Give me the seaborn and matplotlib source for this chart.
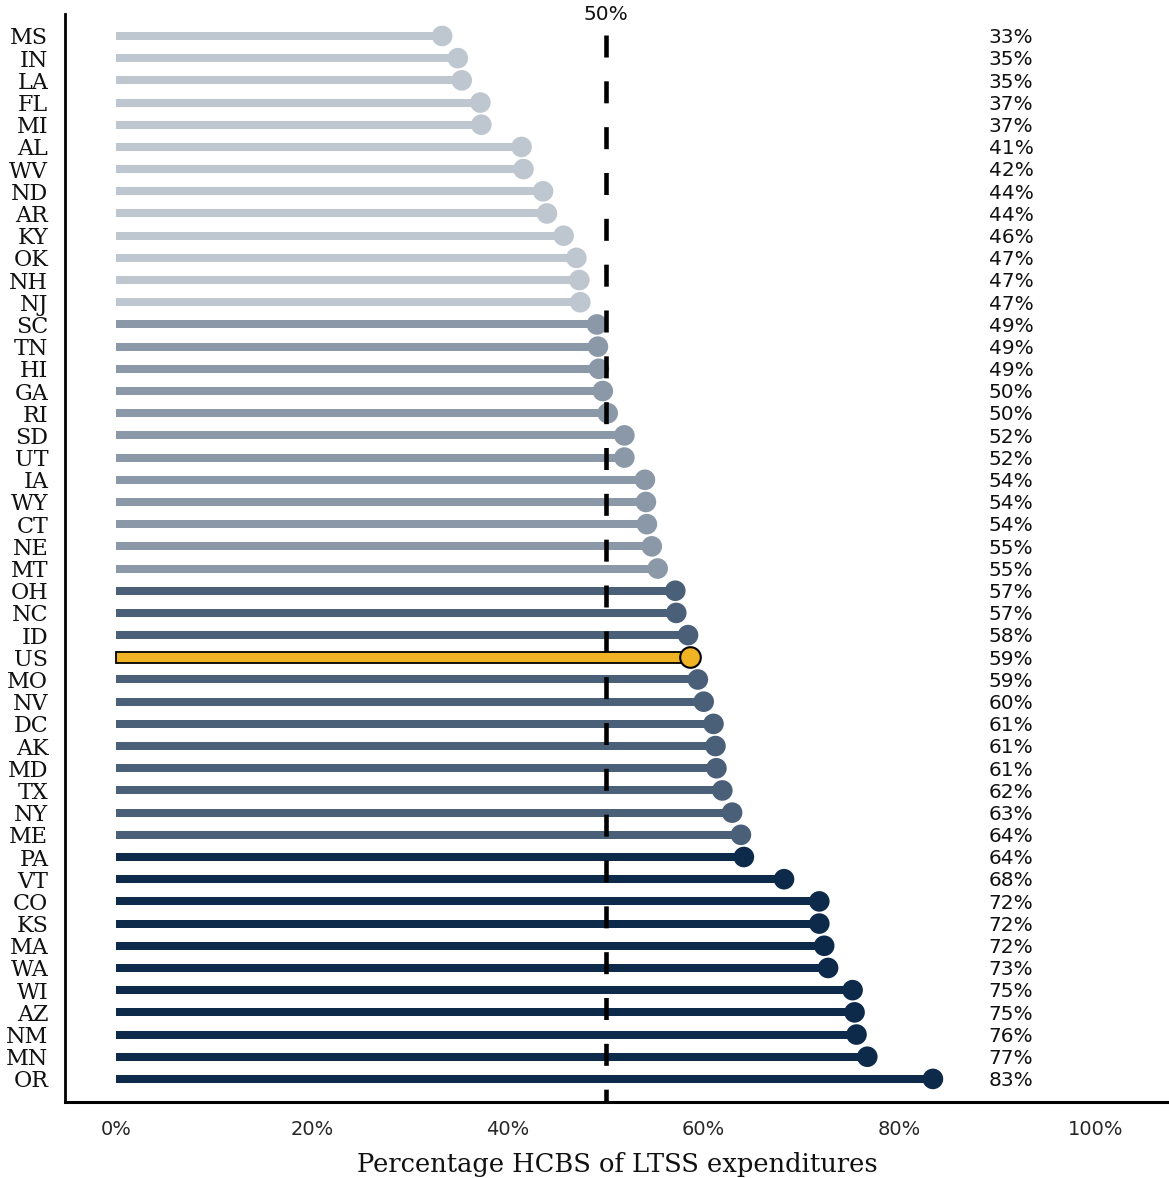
import matplotlib
matplotlib.use("Agg")
import matplotlib.pyplot as plt
import seaborn as sns
import pandas as pd

states = ["MS", "IN", "LA", "FL", "MI", "AL", "WV", "ND", "AR", "KY", "OK", "NH", "NJ",
          "SC", "TN", "HI", "GA", "RI", "SD", "UT", "IA", "WY", "CT", "NE", "MT",
          "OH", "NC", "ID", "US", "MO", "NV", "DC", "AK", "MD", "TX", "NY", "ME",
          "PA", "VT", "CO", "KS", "MA", "WA", "WI", "AZ", "NM", "MN", "OR"]
values = [33.3, 34.9, 35.3, 37.2, 37.3, 41.4, 41.6, 43.6, 44.0, 45.7, 47.0, 47.3, 47.4,
          49.1, 49.2, 49.3, 49.7, 50.2, 51.9, 51.9, 54.0, 54.1, 54.2, 54.7, 55.3,
          57.1, 57.2, 58.4, 58.6, 59.4, 60.0, 61.0, 61.2, 61.3, 61.9, 62.9, 63.8,
          64.1, 68.2, 71.8, 71.8, 72.3, 72.7, 75.2, 75.4, 75.6, 76.7, 83.4]
groups = (["low"] * 13 + ["mid"] * 12 + ["high"] * 3 + ["us"] + ["high"] * 8 + ["top"] * 11)
xticks = [0, 20, 40, 60, 80, 100]
threshold = 50

palette = {"low": "#BEC6D0", "mid": "#8A98A8", "high": "#4A5F78",
           "top": "#0E2A4A", "us": "#F0B323"}

df = pd.DataFrame({"state": states, "value": values, "group": groups})

sns.set_theme(style="white")
fig = plt.figure(figsize=(11.69, 11.78), dpi=100)
ax = fig.add_axes([65 / 1169, 76 / 1178, 1 - 65 / 1169, (1102 - 14) / 1178])

sns.barplot(data=df, x="value", y="state", hue="group", palette=palette,
            order=states, width=0.36, dodge=False, legend=False, ax=ax,
            linewidth=0, saturation=1)
for patch in ax.patches:
    patch.set_zorder(2)
# US bar: thicker with outline
us_idx = states.index("US")
for patch in ax.patches:
    yc = patch.get_y() + patch.get_height() / 2
    if abs(yc - us_idx) < 0.01 and patch.get_width() > 0:
        patch.set_height(0.5)
        patch.set_y(us_idx - 0.25)
        patch.set_edgecolor("black")
        patch.set_linewidth(1.3)
        patch.set_zorder(6)

others = df[df.group != "us"]
sns.scatterplot(data=others, x="value", y="state", hue="group", palette=palette,
                s=220, linewidth=0, legend=False, ax=ax, zorder=3)

ax.plot([threshold, threshold], [-0.05, 48.04], color="black", lw=3.3,
        dashes=(4.8, 5.2), zorder=5, solid_capstyle="butt", dash_capstyle="butt")

us = df[df.group == "us"]
sns.scatterplot(data=us, x="value", y="state", color=palette["us"], s=220,
                edgecolor="black", linewidth=1.5, legend=False, ax=ax, zorder=7)

for i, v in enumerate(values):
    ax.text(89.1, i + 0.08, f"{v:.0f}%", ha="left", va="center", fontsize=14.5,
            family="DejaVu Sans", color="#111111")

ax.text(threshold, -0.99, "50%", ha="center", va="center", fontsize=14.5,
        family="DejaVu Sans", color="#111111")

ax.set_xlim(-5.2, 107.5)
ax.set_ylim(48.04, -0.99)
ax.set_xticks(xticks)
ax.set_xticklabels([f"{t}%" for t in xticks], family="DejaVu Sans", fontsize=14)
ax.tick_params(axis="x", length=0, pad=13)
ax.tick_params(axis="y", length=0, pad=12)
for lab in ax.get_yticklabels():
    lab.set_family("DejaVu Serif")
    lab.set_fontsize(16)
    lab.set_color("#111111")
ax.set_ylabel("")
ax.set_xlabel("Percentage HCBS of LTSS expenditures", family="DejaVu Serif",
              fontsize=18.5, color="#111111", labelpad=9)

for s in ["top", "right"]:
    ax.spines[s].set_visible(False)
ax.spines["left"].set_color("black")
ax.spines["left"].set_linewidth(2)
ax.spines["bottom"].set_color("black")
ax.spines["bottom"].set_linewidth(2.2)
ax.grid(False)

fig.savefig("out.png", dpi=100)
